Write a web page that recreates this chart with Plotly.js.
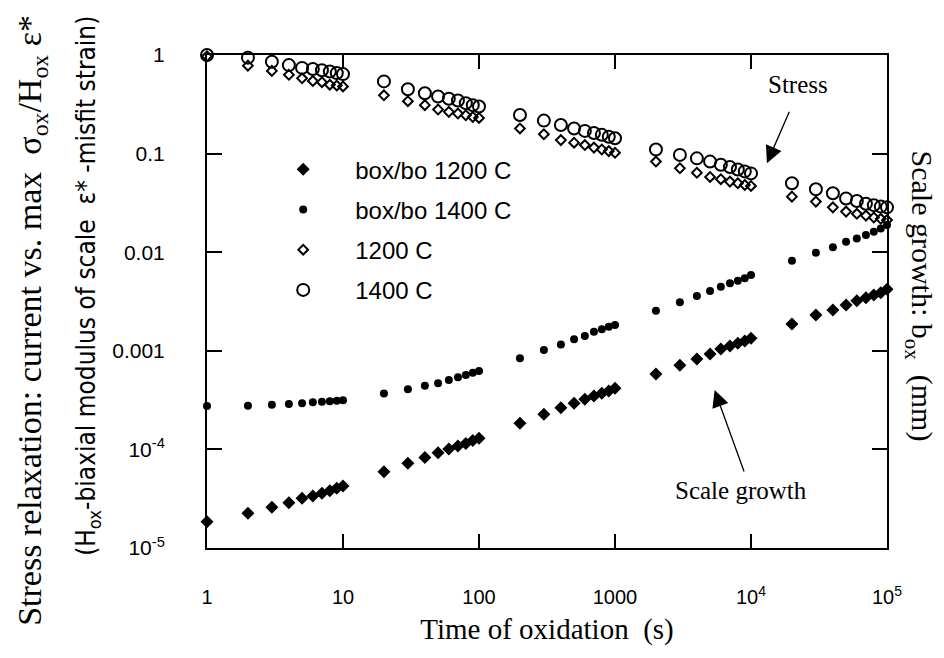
<!DOCTYPE html>
<html>
<head>
<meta charset="utf-8">
<script src="https://cdn.plot.ly/plotly-3.0.1.min.js"></script>
<style>html,body{margin:0;padding:0;background:#fff;}#chart{width:944px;height:658px;}</style>
</head>
<body>
<div id="chart"></div>
<script>
// Time of oxidation (s)
const time = [1,2,3,4,5,6,7,8,9,10,
  20,30,40,50,60,70,80,90,100,
  200,300,400,500,600,700,800,900,1000,
  2000,3000,4000,5000,6000,7000,8000,9000,10000,
  20000,30000,40000,50000,60000,70000,80000,90000,100000];

// Scale growth box/bo
const growth1200 = [1.85e-5,2.25e-5,2.59e-5,2.88e-5,3.19e-5,3.37e-5,3.59e-5,3.81e-5,4.03e-5,4.25e-5,
  5.94e-5,7.23e-5,8.3e-5,9.27e-5,1.01e-4,1.08e-4,1.15e-4,1.23e-4,1.3e-4,
  1.84e-4,2.27e-4,2.65e-4,2.94e-4,3.22e-4,3.48e-4,3.71e-4,3.91e-4,4.17e-4,
  5.82e-4,7.13e-4,8.26e-4,9.29e-4,1.04e-3,1.12e-3,1.19e-3,1.26e-3,1.34e-3,
  1.87e-3,2.31e-3,2.59e-3,2.91e-3,3.22e-3,3.45e-3,3.68e-3,3.88e-3,4.2e-3];

const growth1400 = [2.75e-4,2.77e-4,2.84e-4,2.88e-4,2.94e-4,3.0e-4,3.05e-4,3.08e-4,3.12e-4,3.16e-4,
  3.7e-4,4.07e-4,4.43e-4,4.68e-4,5.06e-4,5.38e-4,5.69e-4,6.0e-4,6.24e-4,
  8.4e-4,1.02e-3,1.16e-3,1.31e-3,1.41e-3,1.56e-3,1.65e-3,1.75e-3,1.83e-3,
  2.55e-3,3.1e-3,3.6e-3,4.04e-3,4.47e-3,4.84e-3,5.14e-3,5.43e-3,5.87e-3,
  8.2e-3,9.9e-3,1.12e-2,1.28e-2,1.38e-2,1.49e-2,1.61e-2,1.74e-2,1.89e-2];

// Stress relaxation sigma/(H eps*)
const stress1200 = [0.97,0.78,0.69,0.63,0.58,0.545,0.53,0.50,0.49,0.48,
  0.39,0.34,0.31,0.28,0.265,0.255,0.245,0.235,0.23,
  0.18,0.157,0.137,0.129,0.122,0.115,0.11,0.106,0.102,
  0.083,0.071,0.064,0.058,0.055,0.052,0.05,0.048,0.047,
  0.0366,0.0326,0.0285,0.0258,0.0245,0.0235,0.0225,0.0218,0.0212];

const stress1400 = [1.0,0.94,0.855,0.79,0.74,0.72,0.70,0.68,0.655,0.64,
  0.54,0.45,0.41,0.38,0.36,0.345,0.325,0.31,0.30,
  0.246,0.216,0.195,0.18,0.17,0.162,0.155,0.148,0.143,
  0.11,0.097,0.0895,0.083,0.077,0.073,0.069,0.066,0.063,
  0.050,0.0435,0.0396,0.035,0.033,0.031,0.030,0.029,0.0285];

const seriesNames = ['box/bo 1200 C','box/bo 1400 C','1200 C','1400 C'];

const xTickVals = [1,10,100,1000,10000,100000];
const xTickText = ['1','10','100','1000','10<sup>4</sup>','10<sup>5</sup>'];
const yTickVals = [1e-5,1e-4,1e-3,1e-2,0.1,1];
const yTickText = ['10<sup>-5</sup>','10<sup>-4</sup>','0.001','0.01','0.1','1'];
// minor tick positions: 2..9 in each decade
const decades = [1e-5,1e-4,1e-3,1e-2,0.1];
const minorDigits = [2,3,4,5,6,7,8,9];
const yMinorVals = [];
decades.forEach(d => minorDigits.forEach(m => yMinorVals.push(d*m)));

// annotation arrow heads (data coordinates)
const stressArrow = {x: 13100, y: 0.080};
const growthArrow = {x: 5400, y: 4.0e-4};

const serif = 'Liberation Serif, Times New Roman, serif';
const sans = 'Liberation Sans, Arial, sans-serif';
const narrow = 'Liberation Sans Narrow, DejaVu Sans Condensed, Arial Narrow, sans-serif';

const traces = [
  {x: time, y: growth1200, name: seriesNames[0], legendgroup:'a', mode:'markers', type:'scatter', cliponaxis:false,
   marker:{symbol:'diamond', size:10, color:'#000'}},
  {x: time, y: growth1400, name: seriesNames[1], legendgroup:'b', mode:'markers', type:'scatter', cliponaxis:false,
   marker:{symbol:'circle', size:8, color:'#000'}},
  {x: time, y: stress1200, name: seriesNames[2], legendgroup:'c', mode:'markers', type:'scatter', cliponaxis:false,
   marker:{symbol:'diamond-open', size:7.5, color:'#000', line:{width:2, color:'#000'}}},
  {x: time, y: stress1400, name: seriesNames[3], legendgroup:'d', mode:'markers', type:'scatter', cliponaxis:false,
   marker:{symbol:'circle-open', size:12, color:'#000', line:{width:2, color:'#000'}}}
];

const axisCommon = {
  type:'log', showgrid:false, zeroline:false, showline:true, linecolor:'#000', linewidth:2,
  mirror:'ticks', ticks:'inside', tickcolor:'#000', tickwidth:2
};

// minor y ticks on the left and right frame edges (inside), placed on the log y scale
const minorLen = 8 / 680;
const minorShapes = [];
yMinorVals.forEach(v => {
  [[0, minorLen], [1 - minorLen, 1]].forEach(([a, b]) => {
    minorShapes.push({type:'line', xref:'paper', yref:'y', x0:a, x1:b, y0:Math.log10(v), y1:Math.log10(v),
      line:{color:'#000', width:2}});
  });
});

const layout = {
  width:944, height:658,
  margin:{l:207, r:57, t:55, b:110},
  paper_bgcolor:'#fff', plot_bgcolor:'#fff',
  showlegend:true,
  legend:{x:0.065, y:0.813, xanchor:'left', yanchor:'top', bgcolor:'rgba(0,0,0,0)',
    font:{family:sans, size:24, color:'#000'}, tracegroupgap:6, itemwidth:94},
  xaxis:Object.assign({}, axisCommon, {
    range:[0,5], tickmode:'array', tickvals:xTickVals, ticktext:xTickText, ticklen:14,
    tickfont:{family:sans, size:20, color:'#000'}, ticklabelstandoff:30,
    title:{text:'Time of oxidation&nbsp;&nbsp;(s)', font:{family:serif, size:29, color:'#000'}, standoff:12}
  }),
  yaxis:Object.assign({}, axisCommon, {
    range:[-5,0], tickmode:'array', tickvals:yTickVals, ticktext:yTickText, ticklen:15,
    tickfont:{family:sans, size:21, color:'#000'}, ticklabelstandoff:36
  }),
  shapes:minorShapes,
  annotations:[
    {xref:'paper', yref:'paper', x:0, y:-0.163, xshift:-175, xanchor:'center', yanchor:'bottom', textangle:-90, showarrow:false,
     text:'Stress relaxation: current vs. max  σ<sub>ox</sub>/H<sub>ox</sub> ε*', font:{family:serif, size:34, color:'#000'}},
    {xref:'paper', yref:'paper', x:0, y:-0.02, xshift:-119, xanchor:'center', yanchor:'bottom', textangle:-90, showarrow:false,
     text:'(H<sub>ox</sub>-biaxial modulus of scale  ε* -misfit strain)', font:{family:narrow, size:26, color:'#000'}},
    {xref:'paper', yref:'paper', x:1, y:(548-148)/493, xshift:33, xanchor:'center', yanchor:'top', textangle:90, showarrow:false,
     text:'Scale growth: b<sub>ox</sub>&nbsp;&nbsp;(mm)', font:{family:serif, size:30, color:'#000'}},
    {x:Math.log10(stressArrow.x), y:Math.log10(stressArrow.y), xref:'x', yref:'y', text:'', showarrow:true,
     axref:'pixel', ayref:'pixel', ax:23, ay:-53, arrowhead:2, arrowsize:2.6, arrowwidth:1.3, arrowcolor:'#000', standoff:0},
    {xref:'paper', yref:'paper', x:(798-207)/680, y:(548-84)/493, xanchor:'center', yanchor:'middle', showarrow:false,
     text:'Stress', font:{family:serif, size:25, color:'#000'}},
    {x:Math.log10(growthArrow.x), y:Math.log10(growthArrow.y), xref:'x', yref:'y', text:'', showarrow:true,
     axref:'pixel', ayref:'pixel', ax:30, ay:83, arrowhead:2, arrowsize:2.6, arrowwidth:1.3, arrowcolor:'#000', standoff:0},
    {xref:'paper', yref:'paper', x:(741-207)/680, y:(548-490)/493, xanchor:'center', yanchor:'middle', showarrow:false,
     text:'Scale growth', font:{family:serif, size:25, color:'#000'}}
  ]
};

Plotly.newPlot('chart', traces, layout, {displayModeBar:false, staticPlot:true});
</script>
</body>
</html>
